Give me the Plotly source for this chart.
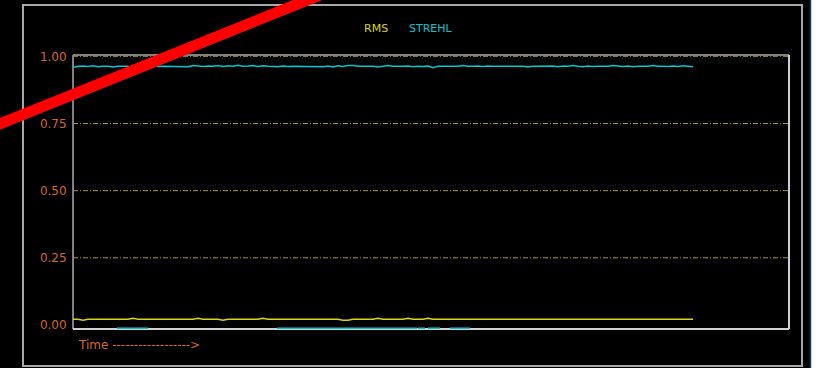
import plotly.graph_objects as go

# ---- data ----
strehl = [
    0.958, 0.963, 0.964, 0.962, 0.965, 0.961, 0.963, 0.963, 0.960, 0.963,
    0.963, 0.963, 0.957, 0.963, 0.964, 0.963, 0.965, 0.962, 0.963, 0.963,
    0.963, 0.963, 0.963, 0.961, 0.966, 0.963, 0.962, 0.964, 0.963, 0.966,
    0.962, 0.965, 0.963, 0.967, 0.963, 0.964, 0.966, 0.962, 0.965, 0.963,
    0.963, 0.961, 0.964, 0.962, 0.963, 0.963, 0.963, 0.963, 0.963, 0.963,
    0.961, 0.964, 0.960, 0.965, 0.962, 0.966, 0.966, 0.963, 0.963, 0.963,
    0.963, 0.960, 0.963, 0.966, 0.963, 0.962, 0.963, 0.964, 0.961, 0.963,
    0.962, 0.964, 0.958, 0.963, 0.963, 0.963, 0.963, 0.963, 0.966, 0.963,
    0.963, 0.964, 0.962, 0.964, 0.963, 0.963, 0.963, 0.963, 0.963, 0.963,
    0.963, 0.960, 0.963, 0.963, 0.963, 0.962, 0.964, 0.961, 0.964, 0.963,
    0.966, 0.963, 0.961, 0.964, 0.962, 0.963, 0.963, 0.963, 0.966, 0.963,
    0.962, 0.964, 0.961, 0.963, 0.963, 0.963, 0.966, 0.963, 0.963, 0.962,
    0.964, 0.962, 0.965, 0.963, 0.961,
]
rms = [
    0.021, 0.021, 0.018, 0.021, 0.021, 0.021, 0.021, 0.021, 0.021, 0.021,
    0.021, 0.021, 0.025, 0.021, 0.021, 0.021, 0.021, 0.021, 0.021, 0.021,
    0.021, 0.021, 0.021, 0.021, 0.021, 0.025, 0.021, 0.021, 0.021, 0.021,
    0.018, 0.021, 0.021, 0.021, 0.021, 0.021, 0.021, 0.021, 0.025, 0.021,
    0.021, 0.021, 0.021, 0.021, 0.021, 0.021, 0.021, 0.021, 0.021, 0.021,
    0.021, 0.021, 0.021, 0.021, 0.018, 0.018, 0.021, 0.021, 0.021, 0.021,
    0.021, 0.025, 0.021, 0.021, 0.021, 0.021, 0.021, 0.025, 0.021, 0.021,
    0.021, 0.025, 0.021, 0.021, 0.021, 0.021, 0.021, 0.021, 0.021, 0.021,
    0.021, 0.021, 0.021, 0.021, 0.021, 0.021, 0.021, 0.021, 0.021, 0.021,
    0.021, 0.021, 0.021, 0.021, 0.021, 0.021, 0.021, 0.021, 0.021, 0.021,
    0.021, 0.021, 0.021, 0.021, 0.021, 0.021, 0.021, 0.021, 0.021, 0.021,
    0.021, 0.021, 0.021, 0.021, 0.021, 0.021, 0.021, 0.021, 0.021, 0.021,
    0.021, 0.021, 0.021, 0.021, 0.021,
]
time_idx = list(range(len(strehl)))

# dropout segments of STREHL drawn at the floor (start, end sample)
dropout_segments = [(8.8, 15.0), (40.8, 68.8), (69.0, 70.4), (71.0, 73.4), (75.4, 79.4)]
dropout_level = -0.013

y_ticks = [0.0, 0.25, 0.5, 0.75, 1.0]
y_ticktext = ["0.00", "0.25", "0.50", "0.75", "1.00"]
grid_levels = [0.25, 0.5, 0.75, 1.0]

legend_names = ["RMS", "STREHL"]

# ---- style ----
YEL = "#d8d800"
CYAN = "#00c8d0"
ORANGE = "#d2691e"
GRID = "#a09040"
FONT = "DejaVu Sans"

W, H = 820, 368
L, R, T, B = 73, 31, 55, 39
PW, PH = W - L - R, H - T - B


def px(x):
    return (x - L) / PW


def py(y):
    return (H - B - y) / PH


fig = go.Figure()

fig.add_trace(go.Scatter(x=time_idx, y=rms, mode="lines", name=legend_names[0],
                         line=dict(color=YEL, width=1.5), showlegend=False))
fig.add_trace(go.Scatter(x=time_idx, y=strehl, mode="lines", name=legend_names[1],
                         line=dict(color=CYAN, width=1.5), showlegend=False))

dx, dy = [], []
for a, b in dropout_segments:
    dx += [a, b, None]
    dy += [dropout_level, dropout_level, None]
fig.add_trace(go.Scatter(x=dx, y=dy, mode="lines", line=dict(color=CYAN, width=2),
                         showlegend=False, cliponaxis=False, hoverinfo="skip"))

shapes = []
# black window area (the strip right of it stays white)
shapes.append(dict(type="rect", xref="paper", yref="paper",
                   x0=px(-5), x1=px(810), y0=py(375), y1=py(-5),
                   line=dict(width=0), fillcolor="black", layer="below"))
shapes.append(dict(type="line", xref="paper", yref="paper",
                   x0=px(810.5), x1=px(810.5), y0=py(375), y1=py(-5),
                   line=dict(color="#1c3c6c", width=1.5), layer="below"))
# grid lines
for g in grid_levels:
    shapes.append(dict(type="line", xref="paper", yref="y", x0=0, x1=1, y0=g, y1=g,
                       line=dict(color=GRID, width=1, dash="5px,2px,1px,2px"), layer="below"))
# plot frame (inset look)
shapes += [
    dict(type="line", xref="paper", yref="paper", x0=0, x1=0, y0=0, y1=1,
         line=dict(color="#808080", width=2), layer="below"),
    dict(type="line", xref="paper", yref="paper", x0=0, x1=1, y0=1, y1=1,
         line=dict(color="#808080", width=2), layer="below"),
    dict(type="line", xref="paper", yref="paper", x0=1, x1=1, y0=0, y1=1,
         line=dict(color="#d0d0d0", width=2), layer="below"),
    dict(type="line", xref="paper", yref="paper", x0=0, x1=1, y0=0, y1=0,
         line=dict(color="#d0d0d0", width=2), layer="below"),
]
# outer panel border
shapes.append(dict(type="rect", xref="paper", yref="paper",
                   x0=px(23), x1=px(802), y0=py(366), y1=py(5),
                   line=dict(color="#a8a8a8", width=2), layer="below"))
# red strike line
shapes.append(dict(type="line", xref="paper", yref="paper",
                   x0=px(-20), y0=py(132), x1=px(330), y1=py(-9),
                   line=dict(color="#ff0000", width=11), layer="above"))

annotations = [
    dict(text=legend_names[0], xref="paper", yref="paper", x=px(376), y=py(28),
         xanchor="center", yanchor="middle",
         showarrow=False, font=dict(color=YEL, size=11, family=FONT)),
    dict(text=legend_names[1], xref="paper", yref="paper", x=px(431), y=py(28),
         xanchor="center", yanchor="middle",
         showarrow=False, font=dict(color=CYAN, size=11, family=FONT)),
    dict(text="Time ------------------>", xref="paper", yref="paper", x=px(76), y=py(345),
         xanchor="left", yanchor="middle",
         showarrow=False, font=dict(color=ORANGE, size=12, family=FONT)),
]

fig.update_layout(
    width=W, height=H,
    margin=dict(l=L, r=R, t=T, b=B, pad=0),
    paper_bgcolor="white", plot_bgcolor="black",
    shapes=shapes, annotations=annotations,
    showlegend=False,
    xaxis=dict(range=[0, 143.2], visible=False, showgrid=False, zeroline=False),
    yaxis=dict(range=[-0.015, 1.005], tickvals=y_ticks, ticktext=y_ticktext,
               showgrid=False, zeroline=False, showline=False,
               ticks="outside", ticklen=3, tickcolor="black",
               tickfont=dict(color=ORANGE, size=12, family=FONT)),
)

fig.write_html("out.html", config={"displayModeBar": False},
               post_script="document.body.style.margin='0';document.body.style.overflow='hidden';")
